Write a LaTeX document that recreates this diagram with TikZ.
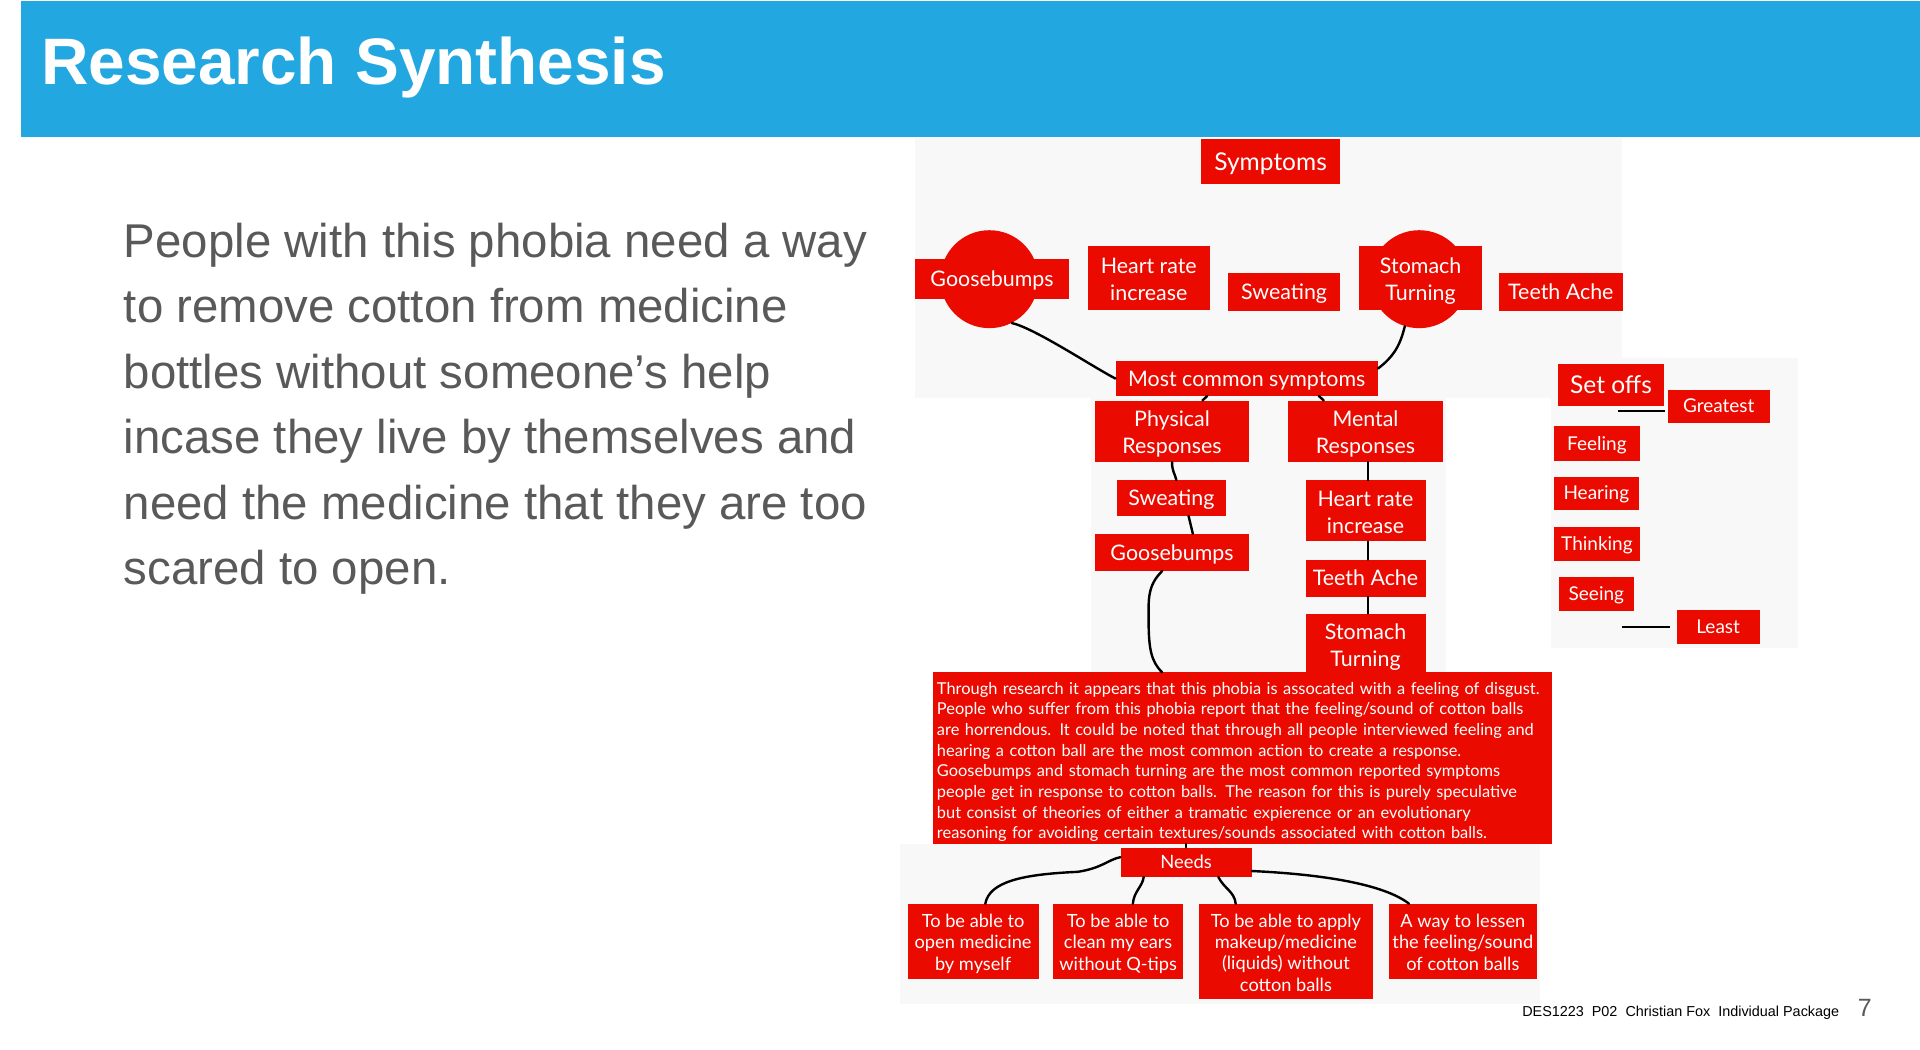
\documentclass[tikz,border=0pt]{standalone}
\usepackage{fontspec}
\setmainfont{Liberation Sans}
\newfontfamily\notefont{Lato}
\usetikzlibrary{calc}
\definecolor{hdrblue}{RGB}{34,167,224}
\definecolor{notered}{RGB}{234,10,0}
\definecolor{panelgray}{RGB}{248,248,248}
\definecolor{bodygray}{RGB}{89,89,89}
\newcommand\liftamt{0pt}
\newcommand\topstrut{\rule{0pt}{\dimexpr0.95em+\liftamt\relax}}
\newcommand\botstrut{\rule[-0.23em]{0pt}{0.23em}}
\newcommand\notebox[7][]{\node[note,anchor=north west,minimum width={(#5-#3)*1.2245pt},minimum height={(#6-#4)*1.2245pt},#1] (#2) at (#3,#4) {\topstrut#7\botstrut};}
\begin{document}
\begin{tikzpicture}[x=1.2245pt,y=-1.2245pt,
  note/.style={fill=notered,text=white,inner sep=0pt,align=center,
    font=\notefont\fontsize{21.4pt}{27.2pt}\selectfont},
  lift/.code={\def\liftamt{#1}},
  ml/.style={lift=2.5pt},
  big/.style={font=\notefont\fontsize{24.5pt}{30pt}\selectfont},
  small/.style={font=\notefont\fontsize{19pt}{23pt}\selectfont},
  need/.style={lift=2pt,font=\notefont\fontsize{18.2pt}{21.4pt}\selectfont},
  conn/.style={black,line width=2.4pt,line cap=round},
  bodyline/.style={anchor=base west,inner sep=0pt,text=bodygray,
    font=\fontsize{47.4pt}{55pt}\selectfont}]
\useasboundingbox (0,0) rectangle (1568,857);
\fill[white] (0,0) rectangle (1568,857);
% header
\fill[hdrblue] (17,1) rectangle (1568,112);
\node[anchor=base west,inner sep=0pt,text=white,font=\bfseries\fontsize{65.7pt}{70pt}\selectfont] (title) at (33.5,69) {Research Synthesis};
% body text
\node[bodyline] (l1) at (101,210) {People with this phobia need a way};
\node[bodyline] (l2) at (101,263.5) {to remove cotton from medicine};
\node[bodyline] (l3) at (101,317) {bottles without someone’s help};
\node[bodyline] (l4) at (101,370.5) {incase they live by themselves and};
\node[bodyline] (l5) at (101,424) {need the medicine that they are too};
\node[bodyline] (l6) at (101,477.5) {scared to open.};
% panels
\fill[panelgray] (747,113) rectangle (1325,325);
\fill[panelgray] (891,318) rectangle (1181,550);
\fill[panelgray] (1267,292) rectangle (1468,529);
\fill[panelgray] (735,689) rectangle (1258,820);
% circles
\node[circle,fill=notered,minimum size={80*1.2245pt},inner sep=0pt] (gbc) at (808,228) {};
\node[circle,fill=notered,minimum size={80*1.2245pt},inner sep=0pt] (stc) at (1159,228) {};
% top nodes
\notebox[big]{symp}{981}{113}{1094}{150}{Symptoms}
\notebox{gb1}{747}{211}{873}{244}{Goosebumps}
\notebox[ml]{hr1}{888}{201}{988}{253}{Heart rate\\increase}
\notebox{sw1}{1003}{223}{1094}{254}{Sweating}
\notebox[ml]{st1}{1110}{201}{1210}{253}{Stomach\\Turning}
\notebox{ta1}{1224}{223}{1325}{254}{Teeth Ache}
\notebox{mcs}{911}{295}{1125}{323}{Most common symptoms}
\notebox[ml]{phys}{894}{327}{1020}{377}{Physical\\Responses}
\notebox[ml]{ment}{1052}{327}{1178}{377}{Mental\\Responses}
\notebox{sw2}{912}{392}{1001}{421}{Sweating}
\notebox{gb2}{894}{436}{1020}{466}{Goosebumps}
\notebox[ml]{hr2}{1066}{392}{1164}{442}{Heart rate\\increase}
\notebox{ta2}{1066}{457}{1164}{487}{Teeth Ache}
\notebox[ml]{st2}{1066}{501}{1164}{550}{Stomach\\Turning}
% big text
\notebox[lift=4.9pt,text width=611pt,inner xsep=3.7pt,align=left,font=\notefont\fontsize{16.4pt}{20.7pt}\selectfont]{bigtxt}{762}{549}{1267}{689}{Through research it appears that this phobia is assocated with a feeling of disgust.\\
People who suffer from this phobia report that the feeling/sound of cotton balls\\
are horrendous. It could be noted that through all people interviewed feeling and\\
hearing a cotton ball are the most common action to create a response.\\
Goosebumps and stomach turning are the most common reported symptoms\\
people get in response to cotton balls. The reason for this is purely speculative\\
but consist of theories of either a tramatic expierence or an evolutionary\\
reasoning for avoiding certain textures/sounds associated with cotton balls.}
% needs
\notebox[font=\notefont\fontsize{18.4pt}{22pt}\selectfont]{needs}{915}{692}{1022}{716}{Needs}
\notebox[need]{n1}{741}{738}{848}{799}{To be able to\\open medicine\\by myself}
\notebox[need]{n2}{860}{738}{966}{799}{To be able to\\clean my ears\\without Q-tips}
\notebox[need]{n3}{979}{738}{1121}{816}{To be able to apply\\makeup/medicine\\(liquids) without\\cotton balls}
\notebox[need]{n4}{1134}{738}{1255}{799}{A way to lessen\\the feeling/sound\\of cotton balls}
% set offs
\notebox[big]{setoffs}{1272}{297}{1359}{331}{Set offs}
\notebox[small]{gr}{1362}{318}{1445}{345}{Greatest}
\notebox[small]{fe}{1269}{348}{1339}{376}{Feeling}
\notebox[small]{he}{1269}{389}{1338}{416}{Hearing}
\notebox[small]{th}{1269}{430}{1339}{458}{Thinking}
\notebox[small]{se}{1273}{471}{1334}{499}{Seeing}
\notebox[small]{le}{1369}{498}{1437}{526}{Least}
% connectors
\draw[conn] (gbc.-63) .. controls (845,268) and (893,300) .. (mcs.west);
\draw[conn] (stc.-107) .. controls (1143,284) and (1137,292) .. ($(mcs.north east)+(0,6)$);
\draw[conn] ($(mcs.south west)+(75,0)$) -- ($(phys.north west)+(88,0)$);
\draw[conn] ($(mcs.south west)+(166,0)$) -- ($(ment.north west)+(29,0)$);
\draw[conn] (phys.south) .. controls +(0,8) and +(-1,-5) .. ($(sw2.north)+(4,0)$);
\draw[conn] ($(sw2.south)+(14,0)$) -- ($(gb2.north)+(17,0)$);
\draw[conn] ($(gb2.south)+(-8,0)$) .. controls (937,478) and (938,490) .. (938,505) .. controls (938,530) and (940,540) .. ($(bigtxt.north west)+(187,0)$);
\draw[conn] ($(ment.south)+(2,0)$) -- ($(hr2.north)+(2,0)$);
\draw[conn] ($(hr2.south)+(2,0)$) -- ($(ta2.north)+(2,0)$);
\draw[conn] ($(ta2.south)+(2,0)$) -- ($(st2.north)+(2,0)$);
\draw[conn] (needs.north |- bigtxt.south) -- (needs.north);
\draw[conn] ($(needs.north west)+(0,8)$) .. controls (905,702) and (900,709) .. (880,712) .. controls (835,714) and (808,720) .. ($(n1.north)+(10,0)$);
\draw[conn] ($(needs.south west)+(19,0)$) .. controls (933,724) and (926,728) .. ($(n2.north)+(12,0)$);
\draw[conn] ($(needs.south west)+(80,0)$) .. controls (1000,726) and (1008,728) .. ($(n3.north)+(-41,0)$);
\draw[conn] ($(needs.south east)+(0,-5)$) .. controls (1080,714) and (1130,722) .. ($(n4.north)+(-44,0)$);
\draw[conn,line cap=butt] ($(gr.west)+(-2,4)$) -- ++(-39,0);
\draw[conn,line cap=butt] ($(le.west)+(-5,0)$) -- ++(-39,0);
% footer
\node[anchor=base west,inner sep=0pt,font=\fontsize{14.4pt}{16pt}\selectfont] (foot) at (1243,830) {DES1223\ \ P02\ \ Christian Fox\ \ Individual Package};
\node[anchor=base west,inner sep=0pt,text=bodygray,font=\fontsize{25pt}{28pt}\selectfont] (pagenum) at (1517,830) {7};
\end{tikzpicture}
\end{document}
